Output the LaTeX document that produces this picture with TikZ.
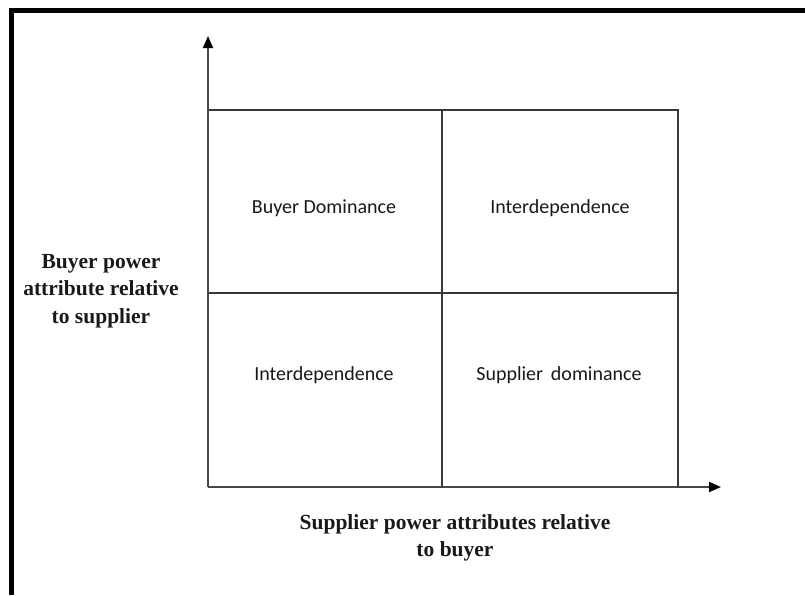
\documentclass[tikz,border=0pt]{standalone}
\usepackage{fontspec}
\setmainfont{Liberation Serif}
\newfontfamily\cellfont{Carlito}
\usetikzlibrary{arrows.meta}
\begin{document}
\begin{tikzpicture}[x=1pt,y=-1pt,
  gridline/.style={draw=black!78,line width=1.6pt},
  axisline/.style={draw=black!72,line width=1.8pt,-{Triangle[length=12pt,width=10pt,color=black]}},
  celltext/.style={font=\cellfont\fontsize{20}{24}\selectfont,text=black!90},
  axistext/.style={font=\bfseries\fontsize{21.5}{27.5}\selectfont,align=center,text=black!90}]
\useasboundingbox (0,0) rectangle (805,595);
\fill[white] (0,0) rectangle (805,595);
\draw[line width=5pt,black] (11.5,595) -- (11.5,10.5) -- (805,10.5);
% grid
\coordinate (o) at (208,487);
\coordinate (top) at (208,36);
\coordinate (right) at (721,487);
\coordinate (tl) at (208,110);
\coordinate (tr) at (678,110);
\coordinate (br) at (678,487);
\coordinate (ml) at (208,293);
\coordinate (mr) at (678,293);
\coordinate (mt) at (442,110);
\coordinate (mb) at (442,487);
\draw[gridline] (tl) -- (tr) -- (br);
\draw[gridline] (ml) -- (mr);
\draw[gridline] (mt) -- (mb);
\draw[axisline] (o) -- (top);
\draw[axisline] (o) -- (right);
% cells
\node[celltext] (bd) at (324,208) {Buyer Dominance};
\node[celltext] (i1) at (560,208) {Interdependence};
\node[celltext] (i2) at (324,375) {Interdependence};
\node[celltext] (sd) at (559,375) {Supplier\, dominance};
% axis labels
\node[axistext] (yl) at (101,291) {Buyer power\\attribute relative\\to supplier};
\node[axistext] (xl) at (455,538) {Supplier power attributes relative\\to buyer};
\end{tikzpicture}
\end{document}
